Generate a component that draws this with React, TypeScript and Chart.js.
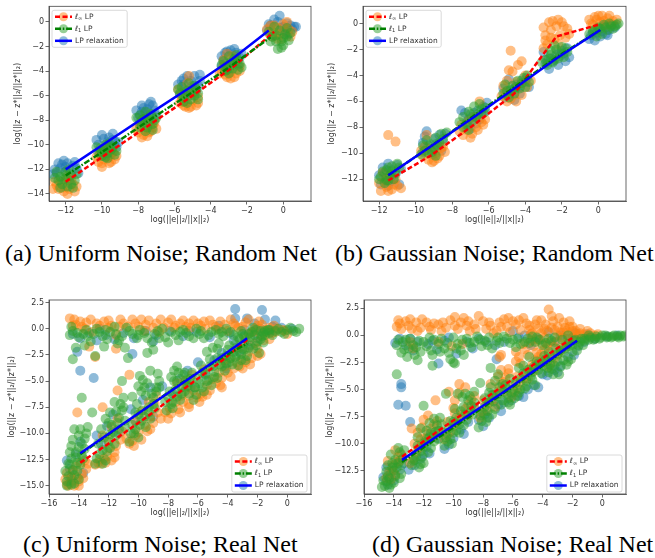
import React, { useEffect, useRef } from 'react';
import { Chart, registerables } from 'chart.js';
Chart.register(...registerables);

type P = [number, number];

// ---------- tick labels ----------
const ticksTopX = [-12, -10, -8, -6, -4, -2, 0];
const ticksAY = [0, -2, -4, -6, -8, -10, -12, -14];
const ticksBY = [0, -2, -4, -6, -8, -10, -12];
const ticksBottomX = [-16, -14, -12, -10, -8, -6, -4, -2, 0];
const ticksCY = [2.5, 0, -2.5, -5, -7.5, -10, -12.5, -15];
const ticksDY = [2.5, 0, -2.5, -5, -7.5, -10, -12.5];

const captions = [
  '(a) Uniform Noise; Random Net',
  '(b) Gaussian Noise; Random Net',
  '(c) Uniform Noise; Real Net',
  '(d) Gaussian Noise; Real Net',
];
const xTitle = 'log(||e||\u2082/||x||\u2082)';
const yTitle = 'log(||z \u2212 z*||\u2082/||z*||\u2082)';

// ---------- (a) Uniform noise, random net ----------
const aRelax: P[] = [
  [-12.5,-12.3],[-12.2,-11.6],[-11.9,-11.5],[-11.6,-11.7],[-11.4,-11.9],[-12.0,-12.2],[-11.7,-12.4],[-12.3,-11.9],[-11.8,-12.9],[-12.6,-12.0],
  [-12.4,-11.5],[-12.1,-11.3],[-11.5,-11.4],[-11.3,-12.3],[-12.7,-12.4],[-12.0,-11.8],
  [-10.2,-10.0],[-9.9,-9.5],[-9.6,-9.4],[-9.3,-9.7],[-9.8,-10.3],[-10.1,-10.6],[-9.5,-10.1],[-9.2,-10.2],[-9.9,-10.9],[-9.4,-9.6],
  [-10.3,-9.6],[-10.0,-9.2],[-9.7,-9.8],[-9.4,-9.1],[-9.1,-9.8],[-9.6,-10.6],
  [-8.0,-7.8],[-7.7,-7.0],[-7.4,-6.7],[-7.2,-6.8],[-7.6,-7.4],[-7.9,-8.2],[-7.3,-7.6],[-7.1,-7.2],[-7.6,-8.1],[-7.8,-7.3],
  [-8.1,-7.2],[-7.8,-6.8],[-7.5,-7.1],[-7.0,-7.6],[-7.3,-6.5],[-7.9,-7.6],
  [-5.6,-4.8],[-5.3,-4.4],[-4.9,-4.4],[-4.6,-4.8],[-5.4,-5.5],[-5.0,-5.2],[-5.7,-5.9],[-4.8,-5.6],[-5.2,-6.0],[-5.5,-5.1],
  [-5.8,-5.1],[-5.5,-4.6],[-5.1,-4.8],[-4.7,-5.2],[-5.3,-5.8],[-4.6,-4.3],
  [-3.2,-2.5],[-2.9,-2.3],[-2.6,-2.5],[-2.4,-2.9],[-3.3,-3.1],[-2.8,-3.3],[-3.0,-3.8],[-2.5,-3.5],[-3.4,-3.6],[-2.7,-2.8],
  [-3.4,-2.8],[-3.1,-2.4],[-2.7,-2.2],[-2.3,-2.6],[-3.2,-3.4],[-2.6,-3.1],
  [-0.7,-0.3],[-0.3,0.0],[0.0,-0.4],[0.4,-0.3],[0.6,-0.4],[-0.2,0.5],[-0.9,-0.7],[0.3,-1.0],[-0.5,-1.1],[0.1,-0.8],
  [-0.8,-0.2],[-0.5,0.2],[0.2,-0.1],[0.5,-0.6],[-0.1,-0.5],[0.7,-0.4],
];
const aLinf: P[] = [
  [-12.4,-13.6],[-12.1,-13.8],[-11.8,-13.6],[-11.6,-13.2],[-12.3,-13.0],[-11.9,-12.6],[-12.5,-13.3],[-11.7,-12.8],[-12.0,-13.4],[-12.6,-13.0],
  [-12.7,-13.6],[-12.2,-13.5],[-11.9,-14.0],[-11.4,-13.4],[-11.5,-13.8],[-12.0,-12.9],
  [-10.2,-11.4],[-9.9,-11.2],[-9.6,-11.0],[-9.4,-10.6],[-10.1,-10.8],[-9.8,-10.3],[-9.3,-11.2],[-10.0,-11.5],[-9.5,-10.8],[-9.7,-10.6],
  [-10.3,-11.0],[-10.0,-11.8],[-9.6,-11.5],[-9.2,-10.9],[-9.9,-10.5],[-9.5,-11.4],
  [-8.0,-9.0],[-7.7,-9.2],[-7.4,-9.0],[-7.2,-8.6],[-7.9,-8.4],[-7.6,-8.7],[-7.1,-8.2],[-7.5,-7.9],[-7.8,-8.1],[-7.3,-8.9],
  [-8.1,-8.7],[-7.8,-9.4],[-7.5,-9.3],[-7.0,-8.7],[-7.3,-8.4],[-7.6,-8.5],
  [-5.5,-6.8],[-5.2,-7.0],[-4.8,-6.8],[-5.6,-6.2],[-5.2,-4.4],[-5.0,-5.8],[-4.7,-6.1],[-5.4,-6.5],[-5.8,-5.5],[-5.3,-5.0],
  [-5.7,-6.6],[-5.4,-6.9],[-5.0,-6.4],[-4.7,-6.6],[-5.1,-6.9],[-5.6,-5.8],
  [-3.2,-4.3],[-2.9,-4.6],[-2.6,-4.2],[-3.3,-3.6],[-2.7,-3.2],[-3.0,-3.9],[-2.4,-3.6],[-3.1,-2.6],[-2.8,-2.8],[-3.4,-4.0],
  [-3.5,-4.2],[-3.1,-4.5],[-2.7,-4.5],[-2.4,-4.0],[-2.9,-4.1],[-3.3,-3.1],
  [-0.7,-0.3],[-0.4,-0.9],[0.0,-0.2],[0.3,-0.6],[-0.1,-1.4],[-0.6,-1.2],[0.2,0.0],[-0.3,-0.5],[-0.8,-0.9],[0.4,-1.2],
  [-0.9,-0.6],[-0.5,-0.3],[-0.2,-1.0],[0.1,-0.7],[0.5,-0.8],[-0.3,-1.4],
];
const aL1: P[] = [
  [-12.3,-12.6],[-12.0,-12.2],[-11.7,-12.5],[-11.5,-12.9],[-12.2,-13.2],[-11.9,-13.4],[-12.4,-12.9],[-11.6,-13.5],[-12.1,-12.8],[-11.8,-12.0],
  [-12.6,-12.7],[-12.3,-13.5],[-11.7,-13.2],[-11.4,-12.4],[-12.0,-12.5],[-12.5,-12.2],
  [-10.1,-10.3],[-9.8,-10.0],[-9.5,-10.4],[-9.3,-10.8],[-10.0,-10.9],[-9.7,-11.1],[-9.6,-9.9],[-10.2,-10.6],[-9.4,-10.2],[-9.9,-10.5],
  [-10.3,-10.2],[-10.0,-10.6],[-9.7,-10.7],[-9.2,-10.5],[-9.6,-10.2],[-9.8,-11.0],
  [-7.9,-7.6],[-7.6,-7.3],[-7.3,-7.5],[-7.1,-8.0],[-7.8,-8.3],[-7.5,-8.6],[-7.2,-8.8],[-7.7,-7.9],[-7.4,-8.1],[-7.9,-8.6],
  [-8.1,-7.8],[-7.8,-8.0],[-7.5,-7.8],[-7.2,-8.3],[-7.6,-8.9],[-7.0,-7.8],
  [-5.6,-5.3],[-5.2,-5.0],[-4.9,-5.2],[-4.7,-5.8],[-5.4,-5.9],[-5.1,-6.3],[-5.5,-6.5],[-4.9,-6.0],[-5.3,-5.6],[-5.7,-5.8],
  [-5.8,-5.5],[-5.5,-6.2],[-5.1,-5.7],[-4.8,-5.5],[-5.3,-6.6],[-4.7,-6.3],
  [-3.3,-3.2],[-3.0,-2.8],[-2.7,-3.0],[-2.4,-3.4],[-3.1,-3.6],[-2.8,-3.8],[-2.5,-3.9],[-3.2,-4.0],[-2.9,-3.3],[-2.6,-2.7],
  [-3.4,-3.5],[-3.1,-3.9],[-2.8,-3.5],[-2.5,-3.1],[-3.0,-4.2],[-2.3,-3.7],
  [-0.8,-0.8],[-0.5,-0.4],[-0.2,-0.7],[0.1,-1.0],[0.3,-1.5],[-0.4,-1.6],[-0.1,-2.1],[0.2,-0.5],[-0.6,-1.2],[0.0,-1.3],
  [-0.7,-1.6],[-0.4,-1.1],[-0.1,-1.6],[0.2,-1.2],[0.4,-0.9],[-0.3,-2.2],[0.0,-1.9],
];
const aRelaxLineX = [-12.0, -9.7, -7.4, -5.1, -2.8, -0.8];
const aRelaxLineY = [-12.0, -9.75, -7.5, -5.3, -3.0, -0.7];
const aL1LineX = [-12.0, -9.7, -7.4, -5.1, -2.8, -0.7];
const aL1LineY = [-12.5, -10.3, -8.0, -5.8, -3.5, -1.25];
const aLinfLineX = [-12.0, -9.7, -7.4, -5.1, -2.8, -0.5];
const aLinfLineY = [-13.0, -10.7, -8.4, -6.1, -3.7, -0.8];

// ---------- (b) Gaussian noise, random net ----------
const bRelax: P[] = [
  [-11.9,-12.4],[-11.6,-11.9],[-11.3,-11.3],[-11.0,-10.9],[-11.8,-11.1],[-11.4,-12.2],[-10.9,-12.4],[-11.1,-11.6],[-12.0,-11.7],[-11.5,-10.8],
  [-11.7,-11.5],[-11.2,-12.0],[-10.8,-11.2],[-11.5,-12.5],
  [-9.6,-9.9],[-9.3,-9.4],[-9.0,-8.9],[-8.7,-8.6],[-8.4,-8.5],[-9.4,-8.3],[-9.1,-10.1],[-8.8,-9.6],[-9.6,-9.2],[-8.5,-9.1],
  [-9.2,-9.7],[-8.9,-9.3],[-8.6,-9.8],[-9.5,-8.7],
  [-7.5,-6.7],[-7.2,-7.6],[-6.9,-7.2],[-6.6,-6.7],[-6.3,-6.4],[-7.0,-8.1],[-6.7,-7.7],[-6.4,-7.0],[-7.3,-6.9],[-6.1,-6.1],
  [-7.1,-7.4],[-6.8,-6.9],[-6.5,-7.4],[-6.2,-6.8],
  [-5.1,-5.7],[-4.8,-5.2],[-4.5,-4.7],[-4.2,-4.4],[-3.9,-4.2],[-4.9,-4.3],[-4.6,-5.9],[-4.3,-5.4],[-5.2,-5.0],[-3.8,-4.9],
  [-4.9,-5.5],[-4.6,-5.0],[-4.3,-4.9],[-4.0,-4.5],
  [-2.9,-3.1],[-2.6,-2.7],[-2.3,-2.4],[-2.0,-2.1],[-1.7,-1.9],[-2.7,-3.5],[-2.2,-3.2],[-1.8,-2.9],[-1.6,-2.6],[-3.0,-2.2],
  [-2.5,-2.9],[-2.1,-2.5],[-1.9,-2.3],[-2.8,-2.8],
  [-0.5,-1.2],[-0.3,-0.7],[0.0,-0.4],[0.3,-0.2],[0.6,-0.5],[0.9,-0.3],[0.1,-1.0],[0.4,-0.8],[-0.2,-1.3],[0.7,-0.1],
  [-0.4,-0.9],[0.2,-0.6],[0.5,-0.9],[-0.1,-0.7],
];
const bLinf: P[] = [
  [-11.9,-12.9],[-11.6,-12.6],[-11.3,-12.8],[-11.0,-12.5],[-11.7,-12.2],[-11.4,-11.8],[-11.1,-12.0],[-11.8,-11.5],[-11.5,-8.6],[-11.1,-9.1],[-10.8,-12.7],
  [-12.0,-12.3],[-11.5,-12.9],[-11.2,-12.4],[-11.6,-12.0],
  [-9.6,-10.2],[-9.3,-10.5],[-9.0,-10.6],[-8.7,-10.2],[-8.4,-9.9],[-9.2,-9.7],[-8.9,-10.0],[-9.5,-9.5],[-8.6,-9.6],[-9.4,-8.6],
  [-9.7,-9.8],[-9.1,-10.7],[-8.8,-10.4],[-8.5,-9.5],
  [-7.5,-7.8],[-7.2,-8.2],[-6.9,-8.5],[-6.6,-8.2],[-6.3,-7.8],[-7.1,-7.5],[-6.8,-7.2],[-6.5,-6.0],[-7.4,-8.6],[-6.2,-7.4],
  [-7.6,-8.3],[-7.0,-8.8],[-6.7,-8.0],[-6.4,-7.6],
  [-5.1,-5.3],[-4.8,-5.8],[-4.5,-6.0],[-4.2,-5.5],[-3.9,-4.9],[-5.0,-4.4],[-4.7,-3.7],[-4.4,-3.2],[-4.8,-2.1],[-4.2,-2.9],[-5.2,-4.8],[-4.0,-4.0],
  [-5.3,-5.6],[-5.0,-6.0],[-4.6,-5.5],[-4.5,-4.5],[-3.7,-4.4],[-4.9,-3.6],
  [-2.9,-0.9],[-2.6,-0.5],[-2.3,-0.2],[-2.0,0.1],[-1.7,-0.4],[-2.8,-1.6],[-2.4,-1.2],[-2.1,-0.9],[-1.8,-1.1],[-2.5,0.2],[-3.0,-1.9],
  [-3.0,-0.3],[-2.7,0.1],[-2.2,0.3],[-1.9,-0.2],[-2.6,-1.1],[-2.2,-1.6],[-2.9,-1.3],[-1.6,-0.8],
  [-0.4,0.0],[-0.1,0.3],[0.2,0.6],[0.5,0.4],[0.8,0.2],[0.1,0.1],[0.4,-0.1],[-0.2,0.5],[0.7,0.0],[1.0,0.3],
  [-0.5,0.3],[0.0,0.6],[0.3,0.2],[0.6,0.6],[-0.3,-0.1],
];
const bL1: P[] = [
  [-11.9,-11.8],[-11.6,-11.3],[-11.3,-11.0],[-11.0,-10.8],[-11.7,-12.3],[-11.4,-11.7],[-11.1,-11.5],[-11.5,-12.1],[-11.2,-12.0],[-11.8,-11.4],
  [-12.0,-12.0],[-11.6,-12.1],[-11.3,-11.4],[-10.9,-11.1],[-11.5,-11.1],
  [-9.5,-9.8],[-9.2,-9.3],[-8.9,-8.8],[-8.6,-8.5],[-8.3,-8.4],[-9.3,-10.0],[-9.0,-9.6],[-8.7,-9.2],[-9.6,-9.4],[-8.9,-10.2],
  [-9.7,-10.1],[-9.1,-9.9],[-8.8,-9.4],[-8.5,-8.9],[-9.4,-9.0],
  [-7.4,-7.2],[-7.1,-6.8],[-6.8,-6.4],[-6.5,-6.2],[-6.2,-6.5],[-7.2,-7.8],[-6.9,-7.5],[-6.6,-7.0],[-7.4,-8.0],[-6.3,-6.9],
  [-7.6,-7.6],[-7.0,-7.0],[-6.7,-7.2],[-6.4,-6.6],[-7.1,-8.2],
  [-5.0,-5.2],[-4.7,-4.8],[-4.4,-4.4],[-4.1,-4.2],[-3.8,-4.5],[-4.9,-5.7],[-4.6,-5.4],[-4.3,-5.0],[-5.1,-4.7],[-4.0,-4.9],
  [-5.2,-5.4],[-4.8,-5.1],[-4.5,-4.9],[-4.2,-4.6],[-3.9,-4.0],
  [-2.9,-2.8],[-2.6,-2.4],[-2.3,-2.0],[-2.0,-1.8],[-1.7,-2.2],[-2.8,-3.2],[-2.5,-3.0],[-2.2,-2.7],[-1.9,-2.6],[-2.4,-1.7],
  [-3.1,-3.0],[-2.7,-2.7],[-2.4,-2.8],[-2.1,-2.3],[-1.8,-1.9],[-2.6,-2.1],
  [-0.3,-0.6],[0.0,-0.3],[0.3,-0.1],[0.6,0.0],[0.9,-0.2],[0.2,-0.8],[0.5,-0.5],[-0.1,-1.0],[0.8,-0.4],[1.1,0.0],
  [-0.5,-0.8],[-0.2,-0.5],[0.4,-0.3],[0.7,-0.2],[1.0,-0.1],[0.1,-0.4],
];
const bLineX = [-11.5, -9.2, -6.9, -4.6, -2.3, 0.1];
const bRelaxLineY = [-11.7, -9.5, -7.3, -5.0, -2.7, -0.5];
const bL1LineY = [-11.7, -9.5, -7.2, -4.9, -2.6, -0.5];
const bLinfLineY = [-12.1, -10.2, -7.9, -5.4, -1.0, -0.05];

// ---------- (c) Uniform noise, real net ----------
const cLinf: P[] = [
  [-14.6,1.0],[-14.2,0.4],[-13.8,0.2],[-13.5,0.6],[-13.1,-0.3],[-12.6,0.3],[-12.0,0.1],[-11.5,-0.6],[-11.2,0.9],[-10.7,0.2],
  [-10.2,0.5],[-9.8,0.9],[-9.5,0.4],[-9.0,0.1],[-8.6,-0.3],[-8.0,0.6],[-7.5,0.3],[-7.0,0.8],[-6.5,0.1],[-6.0,0.5],
  [-5.5,0.0],[-5.0,0.4],[-4.5,0.7],[-4.0,-0.2],[-3.6,0.5],[-3.0,0.2],[-2.5,-0.4],[-2.0,0.3],[-1.5,-0.1],[-1.0,-0.4],
  [-14.3,0.9],[-13.9,0.7],[-13.2,0.9],[-12.3,0.7],[-11.8,0.3],[-11.0,0.5],[-10.4,0.9],[-9.3,0.8],[-8.8,0.5],[-8.3,0.1],
  [-7.8,0.9],[-7.2,0.5],[-6.8,0.2],[-6.3,0.8],[-5.8,0.3],[-5.2,0.8],[-4.8,0.2],[-4.2,0.4],[-3.8,0.9],[-3.3,0.1],
  [-2.8,0.6],[-2.2,0.0],[-1.7,0.4],[-1.2,0.1],[-0.7,0.0],[-0.2,-0.2],[-13.3,-1.7],[-12.9,-2.7],[-11.5,-1.9],
  [-14.4,0.3],[-13.6,0.0],[-12.8,0.5],[-12.0,0.8],[-11.3,0.2],[-10.0,0.2],[-9.6,-0.2],[-8.5,0.9],[-7.6,0.1],[-6.6,0.5],
  [-5.6,0.7],[-4.6,0.0],[-3.5,0.3],[-2.6,0.9],[-1.9,0.7],[-0.9,0.3],
  [-14.1,-8.0],[-12.4,-7.5],[-11.4,-5.9],[-10.6,-4.4],
  [-14.6,-14.8],[-14.3,-15.0],[-14.0,-14.6],[-14.5,-14.2],[-13.8,-13.9],[-14.2,-13.2],[-13.6,-12.6],[-14.8,-13.8],
  [-14.9,-14.4],[-14.7,-15.0],[-14.4,-14.5],[-14.0,-15.0],[-13.7,-14.3],[-14.4,-13.6],[-13.9,-12.8],[-13.5,-13.4],
  [-12.7,-12.8],[-12.3,-12.4],[-12.0,-11.4],[-11.6,-11.8],[-11.2,-10.6],[-12.4,-10.2],[-11.8,-9.4],
  [-12.9,-13.0],[-12.5,-12.9],[-12.1,-12.2],[-11.8,-12.6],[-11.5,-11.2],[-11.1,-9.8],[-12.0,-10.6],[-11.4,-8.6],
  [-10.4,-10.7],[-10.0,-9.9],[-9.6,-9.2],[-9.2,-8.4],[-9.8,-7.9],[-10.2,-8.8],[-8.9,-7.2],
  [-10.6,-11.0],[-10.2,-10.2],[-9.8,-10.6],[-9.4,-9.8],[-9.0,-9.0],[-8.7,-8.0],[-9.3,-7.0],[-8.8,-6.4],
  [-7.9,-7.6],[-7.5,-7.0],[-7.1,-6.4],[-6.8,-5.6],[-7.4,-5.2],[-6.6,-7.5],
  [-8.2,-8.0],[-7.8,-8.1],[-7.3,-7.7],[-7.0,-7.0],[-6.6,-6.4],[-6.3,-5.9],[-6.9,-5.0],[-6.4,-4.4],
  [-5.8,-6.2],[-5.4,-5.4],[-5.0,-4.8],[-4.6,-4.2],[-4.2,-3.6],[-5.6,-3.9],[-4.4,-5.6],
  [-6.1,-6.6],[-5.7,-6.5],[-5.2,-5.9],[-4.8,-5.2],[-4.4,-4.7],[-4.0,-4.2],[-3.9,-2.9],[-4.3,-3.0],
  [-3.4,-3.2],[-3.0,-2.9],[-2.6,-2.2],[-2.2,-1.4],[-1.8,-0.6],[-2.8,-1.0],[-3.2,-1.8],[-2.0,-2.6],
  [-3.6,-3.8],[-3.2,-3.6],[-2.8,-3.2],[-2.4,-2.8],[-2.0,-1.9],[-1.6,-1.1],[-1.4,-0.3],[-2.3,-0.3],
  [-0.8,-0.3],[-0.3,-0.1],[0.0,-0.5],
  [-14.8,-14.9],[-14.1,-14.2],[-13.4,-12.9],[-12.6,-12.5],[-12.2,-12.8],[-11.6,-12.3],[-10.8,-10.5],[-10.3,-11.2],[-9.2,-9.6],[-8.5,-8.6],
  [-8.0,-8.6],[-7.2,-8.0],[-6.6,-7.2],[-5.9,-7.0],[-5.4,-6.3],[-4.5,-5.4],[-3.8,-4.6],[-3.0,-3.8],[-2.5,-3.4],[-1.8,-2.4],[-1.2,-1.0],
];
const cL1: P[] = [
  [-14.4,-0.2],[-14.0,-0.8],[-13.5,-0.1],[-13.0,-0.5],[-12.6,-0.3],[-12.1,-1.0],[-11.6,0.2],[-11.1,-0.7],[-10.6,-0.2],[-10.1,-0.9],
  [-9.6,-0.4],[-9.1,-1.3],[-8.7,-0.2],[-8.2,-0.8],[-7.8,-0.3],[-7.3,-1.1],[-6.8,-0.4],[-6.3,-0.9],[-5.8,-0.2],[-5.3,-0.6],
  [-4.8,-0.1],[-4.3,-0.7],[-3.8,-0.3],[-3.3,-0.8],
  [-14.6,-0.6],[-13.7,-0.5],[-13.2,-1.2],[-12.8,0.0],[-12.4,-0.7],[-11.9,-0.3],[-11.3,-1.1],[-10.8,0.1],[-10.4,-0.5],[-9.9,-0.1],
  [-9.4,-0.9],[-8.9,-0.5],[-8.4,0.0],[-8.0,-1.3],[-7.5,-0.6],[-7.0,-0.1],[-6.6,-0.7],[-6.1,0.0],[-5.6,-0.9],[-5.1,-0.3],
  [-4.6,-0.5],[-4.1,0.0],[-3.6,-0.6],[-3.1,-0.2],[-2.6,-0.5],[-2.1,-0.1],[-1.6,-0.4],[-13.6,-1.6],[-10.9,-1.8],[-9.0,-2.0],
  [-14.5,0.2],[-14.1,-0.4],[-13.4,-0.7],[-12.2,-0.1],[-11.5,-0.5],[-10.0,-0.6],[-8.6,-0.9],[-7.2,-0.3],[-5.9,-0.5],[-4.4,-0.3],
  [-2.9,-0.7],[-2.3,0.1],[-1.2,-0.1],
  [-14.2,-1.8],[-14.4,-2.9],[-13.8,-6.6],[-12.9,-2.6],[-11.1,-5.0],[-11.4,-1.4],[-12.3,-1.7],[-10.7,-2.8],[-9.4,-2.3],[-9.2,-4.0],[-13.1,-8.0],
  [-14.7,-14.1],[-14.4,-13.5],[-14.1,-12.8],[-13.8,-12.1],[-14.5,-12.4],[-14.0,-11.3],[-13.6,-10.5],[-14.3,-9.6],[-14.0,-14.4],
  [-14.8,-14.6],[-14.6,-13.0],[-14.3,-14.0],[-14.1,-13.6],[-13.9,-13.0],[-13.7,-12.4],[-14.6,-11.8],[-14.2,-11.8],[-13.8,-11.0],[-13.5,-10.0],
  [-13.9,-9.6],[-14.4,-10.6],[-14.8,-15.0],[-14.3,-14.8],
  [-14.9,-13.6],[-14.7,-12.9],[-14.5,-14.9],[-14.2,-12.3],[-14.0,-10.2],[-13.6,-11.5],[-13.4,-9.4],[-14.5,-11.2],
  [-12.8,-12.4],[-12.4,-11.6],[-12.0,-10.8],[-11.7,-9.9],[-11.4,-9.0],[-12.2,-8.6],[-11.1,-7.8],[-11.6,-7.0],
  [-12.9,-12.9],[-12.6,-12.0],[-12.2,-12.6],[-12.3,-10.4],[-11.9,-11.4],[-11.8,-9.2],[-11.5,-10.2],[-11.3,-8.5],[-10.9,-8.8],[-11.2,-7.2],
  [-11.9,-8.0],[-12.5,-9.6],[-11.0,-6.6],
  [-12.7,-11.0],[-12.4,-12.9],[-12.1,-11.7],[-11.9,-10.1],[-11.6,-11.0],[-11.3,-9.6],[-11.0,-7.5],[-10.9,-9.4],[-12.0,-9.0],[-11.5,-7.9],
  [-10.3,-10.0],[-9.9,-9.2],[-9.6,-8.4],[-9.3,-7.5],[-9.0,-6.6],[-9.8,-6.0],[-9.4,-5.2],[-10.1,-7.2],[-8.7,-4.3],
  [-10.6,-10.8],[-10.4,-9.2],[-10.0,-10.4],[-10.0,-8.2],[-9.7,-7.8],[-9.5,-9.4],[-9.2,-8.6],[-9.1,-6.2],[-8.8,-5.6],[-9.6,-5.6],
  [-8.9,-7.6],[-9.9,-4.5],[-10.4,-6.5],[-8.6,-5.0],
  [-10.5,-10.0],[-10.2,-9.6],[-10.2,-8.0],[-9.8,-8.8],[-9.5,-6.4],[-9.3,-8.0],[-9.0,-7.2],[-8.8,-6.0],[-8.6,-5.6],[-9.7,-4.9],[-10.0,-5.5],
  [-7.8,-7.2],[-7.4,-6.5],[-7.1,-5.6],[-6.8,-4.9],[-7.3,-4.2],[-6.6,-6.2],[-7.6,-5.0],
  [-8.1,-7.8],[-8.0,-6.5],[-7.7,-7.6],[-7.5,-5.8],[-7.2,-6.8],[-7.0,-4.4],[-6.9,-6.0],[-6.6,-5.1],[-6.4,-4.2],[-7.4,-3.6],[-6.3,-6.8],[-7.8,-4.6],
  [-8.2,-7.0],[-7.9,-6.0],[-7.7,-7.0],[-7.4,-5.0],[-7.1,-6.2],[-6.9,-4.2],[-6.7,-5.5],[-6.5,-4.8],[-6.2,-5.6],[-7.6,-4.0],
  [-5.7,-5.6],[-5.3,-4.9],[-4.9,-4.1],[-4.5,-3.4],[-4.1,-2.6],[-5.2,-2.9],[-4.7,-1.9],[-5.8,-3.5],
  [-6.1,-6.3],[-6.0,-4.8],[-5.6,-6.0],[-5.5,-4.3],[-5.1,-5.4],[-5.0,-3.6],[-4.7,-4.7],[-4.4,-2.8],[-4.2,-4.0],[-3.9,-3.2],
  [-4.0,-2.0],[-5.4,-2.2],[-4.6,-1.4],
  [-6.2,-5.6],[-5.9,-5.2],[-5.7,-4.2],[-5.4,-5.0],[-5.2,-3.6],[-4.9,-4.6],[-4.7,-2.8],[-4.4,-3.6],[-4.1,-3.3],[-3.9,-1.6],[-5.0,-1.8],
  [-3.4,-2.6],[-3.0,-1.9],[-2.6,-1.2],[-2.2,-0.6],[-1.8,-0.2],[-2.8,-3.0],[-3.2,-1.0],[-1.6,-1.3],
  [-3.7,-3.4],[-3.6,-2.2],[-3.3,-3.5],[-3.1,-2.4],[-2.9,-1.4],[-2.7,-2.6],[-2.5,-0.8],[-2.3,-1.9],[-2.0,-1.2],[-1.7,-0.7],
  [-1.5,-0.2],[-3.5,-1.5],[-1.9,-2.3],
  [-3.8,-2.8],[-3.5,-2.7],[-3.4,-1.8],[-3.1,-3.0],[-2.9,-2.0],[-2.6,-1.8],[-2.4,-0.3],[-2.1,-1.6],[-1.8,-1.0],[-1.5,-0.6],[-3.0,-0.5],
  [-1.2,-0.4],[-0.8,-0.2],[-0.4,-0.3],[0.0,-0.1],[0.4,-0.2],[0.8,0.0],
  [-1.3,-0.1],[-1.0,-0.6],[-0.6,0.0],[-0.2,-0.5],[0.2,0.1],[0.6,-0.3],
];
const cRelax: P[] = [
  [-14.4,-0.5],[-13.9,-0.9],[-13.3,-0.4],[-12.8,-1.1],[-12.2,-0.6],[-11.0,-0.4],[-10.3,-0.9],[-9.5,-0.2],[-8.8,-0.6],[-7.9,-0.2],
  [-7.0,-0.7],[-6.1,-0.3],[-5.2,-0.8],[-4.6,0.3],[-3.5,1.0],[-3.5,1.9],[-2.9,-0.1],[-1.8,0.0],[-1.7,1.8],[-2.7,1.0],[-1.5,0.9],[-1.0,0.2],
  [-12.6,0.0],[-11.6,-1.0],[-9.0,-1.2],[-6.6,-0.2],[-3.9,-0.4],[-2.2,0.5],[-0.8,0.8],
  [-13.9,-4.0],[-13.0,-4.7],[-10.4,-2.4],[-14.1,-2.2],
  [-14.6,-13.4],[-14.2,-12.0],[-13.9,-10.8],[-12.5,-11.0],[-12.1,-9.3],[-11.7,-8.2],[-10.2,-8.8],[-9.7,-6.8],[-9.2,-5.6],
  [-7.7,-6.2],[-7.2,-4.8],[-6.7,-4.0],[-5.5,-4.4],[-4.9,-3.0],[-4.4,-2.3],[-3.2,-2.2],[-2.5,-1.6],[-2.0,-0.9],
  [-14.5,-14.2],[-14.8,-12.6],[-13.7,-13.8],[-12.8,-10.2],[-11.3,-10.0],[-10.5,-7.7],[-9.0,-8.4],[-8.4,-5.5],[-6.5,-5.6],[-6.0,-3.2],
  [-4.1,-3.8],[-3.6,-1.1],[-1.2,-0.2],[-0.4,0.1],[0.3,0.0],
];
const cLineX = [-13.9, -11.6, -9.3, -7.0, -4.7, -2.7];
const cRelaxLineY = [-11.9, -9.65, -7.4, -5.15, -2.9, -0.9];
const cL1LineY = [-12.0, -9.7, -7.4, -5.1, -3.0, -1.4];
const cLinfLineY = [-12.8, -10.6, -8.3, -5.8, -3.4, -1.05];

// ---------- (d) Gaussian noise, real net ----------
const dLinf: P[] = [
  [-13.8,0.8],[-13.6,1.1],[-13.2,1.3],[-12.8,0.6],[-12.5,1.2],[-12.1,1.5],[-11.6,0.8],[-11.3,1.1],[-10.8,0.4],[-10.2,1.4],
  [-9.9,1.7],[-9.5,1.2],[-9.1,0.9],[-8.6,1.0],[-8.3,1.8],[-7.8,0.6],[-7.3,0.2],[-6.9,1.2],[-6.6,1.5],[-6.2,0.3],
  [-5.8,1.0],[-5.3,1.6],[-4.9,0.5],[-4.5,1.0],[-4.1,1.4],[-3.6,2.4],[-3.3,1.3],[-2.9,1.6],[-2.5,0.7],[-2.0,0.4],[-1.5,0.2],
  [-13.5,0.6],[-13.0,0.9],[-12.2,0.7],[-11.8,1.2],[-11.0,1.0],[-10.5,0.7],[-9.7,0.6],[-9.3,1.6],[-8.9,0.4],[-8.0,1.3],
  [-7.5,0.9],[-7.1,0.4],[-6.4,0.8],[-6.0,1.3],[-5.5,0.5],[-5.1,1.1],[-4.7,0.2],[-4.3,0.6],[-3.8,1.0],[-3.0,0.8],
  [-2.6,1.2],[-1.8,0.4],[-1.2,0.1],[-0.8,0.2],[-0.3,0.1],[-12.9,-0.6],[-10.1,-1.0],
  [-13.7,1.4],[-12.9,1.5],[-12.4,0.4],[-11.5,0.5],[-10.7,1.2],[-9.9,0.9],[-9.0,1.3],[-8.5,0.6],[-7.6,1.2],[-6.8,0.8],
  [-6.3,1.6],[-5.6,1.4],[-4.9,0.9],[-4.4,1.4],[-3.9,0.6],[-3.4,1.8],[-2.8,0.3],[-2.2,1.3],
  [-12.7,-1.2],[-11.0,-0.6],[-9.4,-0.8],[-6.8,-1.8],
  [-6.9,-2.0],[-6.3,-3.1],[-7.0,-3.8],[-5.8,-2.4],[-9.6,-4.5],[-11.2,-6.0],[-12.8,-8.6],[-10.3,-5.2],
  [-14.3,-12.6],[-14.0,-12.0],[-13.7,-11.2],[-14.5,-13.2],[-13.9,-10.6],
  [-14.2,-13.3],[-13.8,-11.7],[-13.5,-11.0],[-14.4,-11.6],[-13.9,-12.9],
  [-12.5,-10.8],[-12.1,-10.0],[-11.7,-9.1],[-11.3,-8.2],[-12.0,-7.8],
  [-12.7,-11.4],[-12.3,-10.4],[-11.9,-9.5],[-11.5,-8.6],[-11.1,-7.9],[-12.1,-8.5],[-11.7,-7.4],[-12.4,-9.0],
  [-10.4,-9.2],[-10.0,-8.4],[-9.6,-7.6],[-9.2,-6.8],[-8.8,-5.9],[-9.9,-6.0],
  [-10.6,-9.6],[-10.2,-8.9],[-9.8,-8.1],[-9.4,-7.3],[-9.0,-6.4],[-8.6,-5.6],[-9.6,-5.3],[-10.0,-6.7],[-9.2,-4.8],
  [-8.1,-7.1],[-7.7,-6.3],[-7.3,-5.5],[-6.9,-4.6],[-6.5,-3.9],
  [-8.2,-7.6],[-7.8,-6.9],[-7.4,-6.0],[-7.0,-5.2],[-6.6,-4.3],[-6.3,-3.5],[-7.5,-4.5],[-6.8,-3.2],
  [-5.9,-5.2],[-5.5,-4.4],[-5.1,-3.5],[-4.7,-2.7],[-4.3,-2.0],[-3.9,-1.3],
  [-6.1,-5.7],[-5.7,-4.9],[-5.3,-4.0],[-4.9,-3.1],[-4.5,-2.3],[-4.1,-1.7],[-3.7,-0.9],[-5.5,-2.6],[-5.0,-1.8],[-4.6,-1.0],
  [-4.3,-0.4],[-5.8,-1.5],[-5.3,-0.8],[-3.9,-0.2],
  [-5.6,-2.0],[-5.2,-1.3],[-4.8,-0.5],[-4.4,-1.6],[-4.0,-0.8],[-3.6,-1.7],[-3.3,-1.0],[-3.0,-0.6],[-2.7,-0.2],[-4.8,0.1],
  [-4.1,0.2],[-3.4,0.7],[-2.4,0.4],[-2.0,0.8],[-1.5,0.6],[-1.0,0.4],
  [-3.4,-2.5],[-3.0,-1.8],[-2.6,-1.1],[-2.2,-0.4],[-1.8,0.0],[-3.2,0.5],
  [-3.6,-2.9],[-3.2,-2.1],[-2.8,-1.4],[-2.4,-0.7],[-2.0,-0.2],[-1.6,0.1],[-3.5,-0.6],[-3.0,0.0],[-2.6,0.3],[-2.2,0.8],[-3.7,0.4],
  [-1.0,-0.1],[-0.5,0.0],
  [-14.1,-12.5],[-13.6,-11.6],[-12.9,-11.8],[-12.6,-10.0],[-12.2,-9.6],[-11.4,-9.4],[-10.9,-8.8],[-10.4,-8.0],[-9.9,-7.2],[-9.0,-7.4],
  [-8.6,-6.6],[-8.0,-6.0],[-7.2,-6.6],[-6.6,-5.2],[-6.0,-4.5],[-5.7,-3.8],[-5.0,-4.0],[-4.6,-3.3],[-4.0,-2.5],
];
const dL1: P[] = [
  [-13.4,-0.6],[-13.0,-1.2],[-12.6,-1.8],[-12.9,-0.3],[-12.3,-0.5],[-11.8,-1.0],[-11.3,-0.4],[-10.9,-1.5],[-10.4,-0.7],[-10.0,-0.2],
  [-9.5,-1.4],[-9.1,-0.3],[-8.6,-0.6],[-8.1,-1.0],[-7.6,-0.2],[-7.1,-0.5],[-6.6,-0.1],[-6.0,-0.4],[-5.5,-0.8],[-5.0,-0.3],
  [-4.5,-0.6],[-4.0,-0.9],[-3.6,-0.3],
  [-13.8,-0.9],[-13.5,-1.6],[-13.2,-0.4],[-13.1,-2.0],[-12.7,-0.9],[-12.2,-1.5],[-11.6,-0.2],[-11.4,-1.8],[-11.0,-0.8],[-10.6,-1.2],
  [-10.2,-2.2],[-9.7,-0.8],[-9.3,-1.8],[-8.8,-1.1],[-8.4,-0.1],[-7.9,-0.5],[-7.4,-1.2],[-6.9,-0.7],[-6.4,-0.3],[-5.8,-1.1],
  [-5.2,-0.6],[-4.7,-0.1],[-4.2,-0.4],[-3.8,-0.7],[-3.2,-0.2],[-2.7,-0.4],[-2.3,0.0],[-9.9,-2.6],[-12.4,-2.3],
  [-13.7,-0.4],[-13.3,-1.3],[-12.5,-1.1],[-12.0,-0.6],[-11.5,-1.4],[-10.8,-0.3],[-10.3,-1.6],[-9.8,-1.2],[-9.4,-0.4],[-8.9,-0.7],
  [-8.2,-0.4],[-7.7,-0.9],[-7.0,-0.2],[-6.2,-0.7],[-5.7,-0.3],[-4.9,-0.7],[-4.4,-0.2],[-3.4,-0.5],
  [-13.8,-3.6],[-11.4,-2.8],[-10.0,-2.5],[-10.5,-5.4],[-12.0,-6.5],[-8.2,-4.4],[-7.5,-3.0],
  [-14.6,-13.9],[-14.3,-13.2],[-14.0,-12.5],[-13.7,-11.8],[-14.4,-12.0],[-13.5,-12.8],[-14.0,-13.6],[-13.6,-10.8],[-14.2,-11.0],
  [-14.7,-13.4],[-14.5,-12.6],[-14.2,-13.8],[-13.9,-13.0],[-13.8,-12.2],[-13.4,-11.4],[-14.1,-11.8],[-13.7,-10.4],[-14.4,-13.0],[-13.6,-13.2],
  [-14.8,-14.0],[-14.5,-13.5],[-14.1,-12.2],[-13.9,-11.5],[-13.5,-12.0],[-13.3,-10.6],[-14.3,-14.1],
  [-12.6,-11.5],[-12.2,-10.7],[-11.9,-9.9],[-11.5,-9.0],[-11.1,-8.3],[-12.0,-11.8],[-11.6,-8.1],[-12.4,-9.4],
  [-12.8,-12.0],[-12.5,-11.2],[-12.2,-11.9],[-12.0,-10.3],[-11.7,-10.8],[-11.6,-9.4],[-11.3,-9.8],[-11.0,-8.8],[-10.9,-7.6],[-11.3,-7.7],
  [-12.2,-8.6],[-11.8,-8.8],
  [-12.7,-11.6],[-12.4,-10.2],[-12.1,-11.2],[-11.8,-9.6],[-11.5,-10.4],[-11.2,-8.9],[-11.0,-9.6],[-10.8,-8.2],[-12.3,-12.2],
  [-10.4,-9.8],[-10.0,-9.0],[-9.6,-8.2],[-9.2,-7.3],[-8.8,-6.5],[-9.9,-6.8],[-9.4,-5.7],[-10.2,-7.9],
  [-10.6,-10.2],[-10.5,-9.0],[-10.2,-9.6],[-10.0,-8.0],[-9.8,-8.8],[-9.5,-7.0],[-9.3,-8.3],[-9.0,-6.0],[-8.7,-7.3],[-8.6,-5.2],
  [-9.7,-5.4],[-8.9,-5.6],
  [-10.5,-9.4],[-10.3,-8.6],[-10.1,-10.0],[-9.8,-7.6],[-9.6,-9.0],[-9.3,-6.6],[-9.1,-7.8],[-8.8,-7.0],[-8.6,-6.2],[-9.2,-5.4],
  [-8.1,-7.9],[-7.7,-7.0],[-7.3,-6.1],[-6.9,-5.4],[-6.5,-4.6],[-7.5,-4.8],[-6.3,-6.2],[-7.9,-5.8],
  [-8.3,-8.5],[-8.0,-7.2],[-7.8,-8.0],[-7.6,-6.2],[-7.4,-7.3],[-7.1,-5.6],[-6.8,-6.4],[-6.7,-4.5],[-6.4,-5.4],[-6.2,-4.0],
  [-7.2,-4.2],[-7.0,-3.6],
  [-8.2,-7.4],[-7.9,-6.6],[-7.7,-7.6],[-7.4,-5.5],[-7.2,-6.8],[-6.9,-4.8],[-6.7,-6.0],[-6.4,-4.9],[-6.3,-5.8],[-7.6,-5.3],
  [-5.9,-5.8],[-5.5,-5.0],[-5.1,-4.2],[-4.7,-3.4],[-4.3,-2.6],[-3.9,-1.9],[-5.3,-2.8],[-4.5,-4.6],[-3.7,-3.0],
  [-6.2,-6.4],[-6.0,-5.0],[-5.7,-5.6],[-5.5,-4.0],[-5.2,-4.9],[-5.0,-3.2],[-4.7,-4.1],[-4.4,-2.4],[-4.1,-3.5],[-3.8,-2.2],
  [-3.6,-1.5],[-4.9,-2.0],[-5.6,-3.0],
  [-6.1,-5.3],[-5.8,-4.4],[-5.6,-5.3],[-5.3,-3.5],[-5.1,-4.7],[-4.8,-3.8],[-4.6,-2.9],[-4.3,-3.2],[-4.0,-2.8],[-3.7,-2.4],
  [-3.4,-3.1],[-3.0,-2.4],[-2.6,-1.6],[-2.2,-1.0],[-1.8,-0.4],[-2.9,-3.6],[-2.4,-2.7],
  [-3.6,-3.4],[-3.4,-2.0],[-3.2,-2.8],[-2.8,-1.4],[-2.6,-2.3],[-2.3,-0.8],[-2.0,-1.5],[-1.9,-0.5],[-1.6,-0.9],[-1.4,-0.3],
  [-3.1,-1.2],[-2.1,-2.2],
  [-3.5,-2.7],[-3.3,-3.6],[-3.0,-1.7],[-2.8,-2.9],[-2.5,-1.2],[-2.3,-2.4],[-2.0,-0.9],[-1.7,-1.4],[-1.5,-0.6],[-1.3,-0.9],
  [-1.2,-0.3],[-0.8,-0.2],[-0.4,-0.1],[0.0,0.0],[0.4,-0.1],[0.8,0.0],[1.2,0.0],[1.5,0.0],
  [-1.2,-0.5],[-0.9,0.0],[-0.6,-0.4],[-0.2,-0.3],[0.2,0.0],[0.6,-0.2],[1.0,-0.1],
  [-0.9,-0.4],[-0.5,-0.3],[-0.1,-0.2],[0.3,-0.2],[0.7,-0.1],[1.1,-0.2],[1.4,-0.1],
];
const dRelax: P[] = [
  [-13.6,-0.3],[-13.2,-0.9],[-12.7,-1.4],[-12.4,-0.6],[-11.7,-0.8],[-11.1,-1.3],[-10.6,-0.5],[-9.8,-1.7],[-9.1,-0.6],[-8.3,-0.3],
  [-7.2,-0.9],[-6.0,0.4],[-5.2,0.0],[-4.3,-0.3],[-3.6,0.3],[-2.8,0.0],[-1.8,0.2],[-1.0,0.1],
  [-12.9,-0.3],[-10.3,-0.2],[-8.7,-1.2],[-6.6,-0.6],[-4.8,-0.9],[-3.2,-0.6],[-2.3,-0.3],
  [-13.9,-0.7],[-11.4,-0.5],[-7.8,-0.6],[-5.6,-0.2],
  [-13.5,-4.5],[-13.5,-4.8],[-13.7,-6.4],[-13.2,-6.5],[-12.9,-8.0],[-11.0,-2.6],[-7.1,-2.2],
  [-14.7,-13.1],[-14.2,-12.8],[-13.6,-12.4],[-12.6,-12.0],[-12.2,-11.4],[-11.3,-9.2],[-10.3,-10.1],[-9.5,-8.7],[-8.6,-6.7],
  [-8.0,-8.4],[-7.0,-6.4],[-6.1,-6.0],[-5.0,-5.0],[-4.0,-3.6],[-3.2,-3.2],[-2.3,-2.0],[-1.6,-1.0],
  [-14.5,-12.2],[-14.0,-13.4],[-13.3,-11.8],[-12.0,-11.0],[-11.8,-10.3],[-11.0,-9.5],[-10.0,-9.5],[-9.0,-8.0],[-8.3,-7.8],
  [-7.6,-7.6],[-6.6,-6.2],[-5.6,-5.6],[-4.6,-4.6],[-3.7,-3.7],[-2.8,-2.8],[-1.9,-1.8],[-1.2,-0.6],[-0.5,-0.3],[0.3,-0.1],[1.0,0.0],
  [-14.4,-13.8],[-13.0,-12.4],[-11.6,-10.9],[-10.6,-10.5],[-9.3,-9.1],[-7.9,-7.3],[-6.8,-7.0],[-5.3,-5.7],[-4.3,-4.8],[-3.0,-3.4],
];
const dLineX = [-13.45, -11.2, -8.9, -6.6, -4.3, -1.9];
const dLinfLineY = [-11.2, -9.0, -6.8, -4.6, -2.4, -0.12];
const dRelaxLineX = [-13.45, -11.2, -8.9, -6.6, -4.3, -1.7];
const dRelaxLineY = [-11.5, -9.4, -7.3, -5.2, -3.0, -0.5];
const dL1LineY = [-11.7, -9.6, -7.5, -5.3, -3.1, -0.5];

// ---------- styling ----------
const FONT = '"DejaVu Sans", sans-serif';
const TXT = '#333333';
const AX = '#444444';
const C_BLUE = 'rgba(31,119,180,0.5)';
const C_ORANGE = 'rgba(255,127,14,0.5)';
const C_GREEN = 'rgba(44,160,44,0.5)';
const L_RED = '#ff0000';
const L_GREEN = '#008000';
const L_BLUE = '#0000ff';
const DASH_RED = [5, 2.5];
const DASH_GREEN = [6, 1.8, 1.5, 1.8];
const MARKER_R = 5;

const fmtInt = (v: number) => (v < 0 ? '\u2212' + Math.abs(v) : String(v));
const fmtDec = (v: number) => (v < 0 ? '\u2212' + Math.abs(v).toFixed(1) : v.toFixed(1));
const toPts = (arr: P[]) => arr.map(([x, y]) => ({ x, y }));
const toLine = (xs: number[], ys: number[]) => xs.map((x, i) => ({ x, y: ys[i] }));

type Part = { t: string; italic?: boolean; sub?: boolean };
const legendEntries: { parts: Part[]; line: string; dash: number[]; marker: string }[] = [
  { parts: [{ t: '\u2113', italic: true }, { t: '\u221e', sub: true }, { t: ' LP' }], line: L_RED, dash: DASH_RED, marker: C_ORANGE },
  { parts: [{ t: '\u2113', italic: true }, { t: '1', sub: true }, { t: ' LP' }], line: L_GREEN, dash: DASH_GREEN, marker: C_GREEN },
  { parts: [{ t: 'LP relaxation' }], line: L_BLUE, dash: [], marker: C_BLUE },
];

const LEG_FS = 7.5;
function partFont(p: Part) {
  return `${p.italic ? 'italic ' : ''}${p.sub ? LEG_FS * 0.7 : LEG_FS}px ${FONT}`;
}

const frameLegendPlugin = {
  id: 'frameLegend',
  afterDatasetsDraw(chart: any, _args: any, opts: any) {
    const { ctx, chartArea: a } = chart;
    ctx.save();
    ctx.strokeStyle = AX;
    ctx.lineWidth = 0.8;
    ctx.strokeRect(a.left, a.top, a.right - a.left, a.bottom - a.top);

    let maxW = 0;
    for (const e of legendEntries) {
      let w = 0;
      for (const p of e.parts) { ctx.font = partFont(p); w += ctx.measureText(p.t).width; }
      maxW = Math.max(maxW, w);
    }
    const bw = 23 + maxW + 3.5;
    const bh = 37;
    const bx = opts.corner === 'tl' ? a.left + 3 : a.right - bw - 4;
    const by = opts.corner === 'tl' ? a.top + 4 : a.bottom - bh - 2;
    ctx.beginPath();
    if (ctx.roundRect) ctx.roundRect(bx, by, bw, bh, 2); else ctx.rect(bx, by, bw, bh);
    ctx.fillStyle = 'rgba(255,255,255,0.85)';
    ctx.fill();
    ctx.strokeStyle = '#d0d0d0';
    ctx.lineWidth = 0.8;
    ctx.stroke();

    legendEntries.forEach((e, i) => {
      const cy = by + 6.5 + i * 12;
      ctx.beginPath();
      ctx.arc(bx + 11.5, cy, 4.5, 0, Math.PI * 2);
      ctx.fillStyle = e.marker;
      ctx.fill();
      ctx.beginPath();
      ctx.setLineDash(e.dash);
      ctx.strokeStyle = e.line;
      ctx.lineWidth = 2.5;
      ctx.moveTo(bx + 3, cy);
      ctx.lineTo(bx + 20, cy);
      ctx.stroke();
      ctx.setLineDash([]);
      let tx = bx + 23;
      ctx.fillStyle = TXT;
      ctx.textBaseline = 'middle';
      ctx.textAlign = 'left';
      for (const p of e.parts) {
        ctx.font = partFont(p);
        ctx.fillText(p.t, tx, cy + (p.sub ? 2 : 0));
        tx += ctx.measureText(p.t).width;
      }
    });
    ctx.restore();
  },
};

type PanelCfg = {
  left: number; top: number; width: number; height: number;
  pad: { left: number; top: number; right: number; bottom: number };
  yWidth: number; xHeight: number; yTitlePad: number; xTitlePad: number;
  xMin: number; xMax: number; yMin: number; yMax: number;
  xTicks: number[]; yTicks: number[]; yFmt: (v: number) => string;
  relax: P[]; linf: P[]; l1: P[];
  relaxLine: { x: number; y: number }[]; l1Line: { x: number; y: number }[]; linfLine: { x: number; y: number }[];
  corner: 'tl' | 'br';
};

const panels: PanelCfg[] = [
  {
    left: 0, top: 0, width: 325, height: 228,
    pad: { left: 9, top: 5, right: 14, bottom: 0 }, yWidth: 40, xHeight: 27, yTitlePad: 4, xTitlePad: 3.2,
    xMin: -12.92, xMax: 1.53, yMin: -14.57, yMax: 1.27,
    xTicks: ticksTopX, yTicks: ticksAY, yFmt: fmtInt,
    relax: aRelax, linf: aLinf, l1: aL1,
    relaxLine: toLine(aRelaxLineX, aRelaxLineY), l1Line: toLine(aL1LineX, aL1LineY), linfLine: toLine(aLinfLineX, aLinfLineY),
    corner: 'tl',
  },
  {
    left: 325, top: 0, width: 330, height: 228,
    pad: { left: 0, top: 5, right: 29, bottom: 0 }, yWidth: 38, xHeight: 27, yTitlePad: 2, xTitlePad: 3.2,
    xMin: -12.88, xMax: 1.51, yMin: -13.68, yMax: 1.33,
    xTicks: ticksTopX, yTicks: ticksBY, yFmt: fmtInt,
    relax: bRelax, linf: bLinf, l1: bL1,
    relaxLine: toLine(bLineX, bRelaxLineY), l1Line: toLine(bLineX, bL1LineY), linfLine: toLine(bLineX, bLinfLineY),
    corner: 'tl',
  },
  {
    left: 0, top: 280, width: 325, height: 240,
    pad: { left: 3, top: 20, right: 14, bottom: 0 }, yWidth: 46, xHeight: 26, yTitlePad: 4, xTitlePad: 2.2,
    xMin: -16.0, xMax: 1.59, yMin: -15.8, yMax: 2.76,
    xTicks: ticksBottomX, yTicks: ticksCY, yFmt: fmtDec,
    relax: cRelax, linf: cLinf, l1: cL1,
    relaxLine: toLine(cLineX, cRelaxLineY), l1Line: toLine(cLineX, cL1LineY), linfLine: toLine(cLineX, cLinfLineY),
    corner: 'br',
  },
  {
    left: 325, top: 280, width: 330, height: 240,
    pad: { left: 0, top: 20, right: 29, bottom: 0 }, yWidth: 39, xHeight: 26, yTitlePad: 0, xTitlePad: 2.2,
    xMin: -16.0, xMax: 1.59, yMin: -14.65, yMax: 3.27,
    xTicks: ticksBottomX, yTicks: ticksDY, yFmt: fmtDec,
    relax: dRelax, linf: dLinf, l1: dL1,
    relaxLine: toLine(dRelaxLineX, dRelaxLineY), l1Line: toLine(dRelaxLineX, dL1LineY), linfLine: toLine(dLineX, dLinfLineY),
    corner: 'br',
  },
];

function Panel({ cfg }: { cfg: PanelCfg }) {
  const ref = useRef<HTMLCanvasElement>(null);
  useEffect(() => {
    const tickFont = { family: FONT, size: 8 };
    const scatter = (data: P[], color: string, order: number) => ({
      type: 'scatter', data: toPts(data), backgroundColor: color, borderColor: color, borderWidth: 0,
      pointRadius: MARKER_R, pointHoverRadius: MARKER_R, order,
    });
    const line = (data: any[], color: string, dash: number[], order: number) => ({
      type: 'scatter', data, showLine: true, borderColor: color, backgroundColor: color, borderWidth: 2.5,
      borderDash: dash, pointRadius: 0, pointHoverRadius: 0, fill: false, tension: 0, order,
    });
    const chart = new Chart(ref.current as HTMLCanvasElement, {
      type: 'scatter',
      data: {
        datasets: [
          scatter(cfg.relax, C_BLUE, 5),
          scatter(cfg.linf, C_ORANGE, 4),
          scatter(cfg.l1, C_GREEN, 3),
          line(cfg.linfLine, L_RED, DASH_RED, 2),
          line(cfg.l1Line, L_GREEN, DASH_GREEN, 1),
          line(cfg.relaxLine, L_BLUE, [], 0),
        ] as any,
      },
      options: {
        responsive: false,
        animation: false,
        events: [],
        layout: { padding: cfg.pad },
        plugins: { legend: { display: false }, tooltip: { enabled: false }, frameLegend: { corner: cfg.corner } } as any,
        scales: {
          x: {
            type: 'linear', min: cfg.xMin, max: cfg.xMax,
            afterBuildTicks: (s: any) => { s.ticks = cfg.xTicks.map((v) => ({ value: v })); },
            afterFit: (s: any) => { s.height = cfg.xHeight; },
            ticks: { font: tickFont, color: TXT, padding: 1.5, maxRotation: 0, minRotation: 0, autoSkip: false, callback: (v: any) => fmtInt(Number(v)) },
            grid: { drawOnChartArea: false, drawTicks: true, tickLength: 3.5, color: AX, lineWidth: 0.8 },
            border: { display: true, color: AX, width: 0.8 },
            title: { display: true, text: xTitle, font: { family: FONT, size: 8 }, color: TXT, padding: { top: 0, bottom: cfg.xTitlePad } },
          },
          y: {
            type: 'linear', min: cfg.yMin, max: cfg.yMax,
            afterBuildTicks: (s: any) => { s.ticks = cfg.yTicks.map((v) => ({ value: v })); },
            afterFit: (s: any) => { s.width = cfg.yWidth; },
            ticks: { font: tickFont, color: TXT, padding: 1.5, autoSkip: false, callback: (v: any) => cfg.yFmt(Number(v)) },
            grid: { drawOnChartArea: false, drawTicks: true, tickLength: 3.5, color: AX, lineWidth: 0.8 },
            border: { display: true, color: AX, width: 0.8 },
            title: { display: true, text: yTitle, font: { family: FONT, size: 8 }, color: TXT, padding: { top: cfg.yTitlePad, bottom: 0 } },
          },
        },
      } as any,
      plugins: [frameLegendPlugin],
    });
    return () => chart.destroy();
  }, [cfg]);
  return (
    <div style={{ position: 'absolute', left: cfg.left, top: cfg.top, width: cfg.width, height: cfg.height }}>
      <canvas ref={ref} width={cfg.width} height={cfg.height} style={{ width: cfg.width, height: cfg.height, display: 'block' }} />
    </div>
  );
}

const captionPos = [
  { left: 5, top: 241 },
  { left: 335, top: 241 },
  { left: 23, top: 532 },
  { left: 372, top: 532 },
];

export default function App() {
  return (
    <div style={{ position: 'absolute', left: 0, top: 0, width: 655, height: 558, background: '#ffffff', overflow: 'hidden' }}>
      {panels.map((p, i) => <Panel key={i} cfg={p} />)}
      {captions.map((c, i) => (
        <div key={c} style={{ position: 'absolute', left: captionPos[i].left, top: captionPos[i].top, fontFamily: '"Liberation Serif", "Times New Roman", serif', fontSize: 24, lineHeight: '24px', whiteSpace: 'nowrap', color: '#000' }}>{c}</div>
      ))}
    </div>
  );
}
